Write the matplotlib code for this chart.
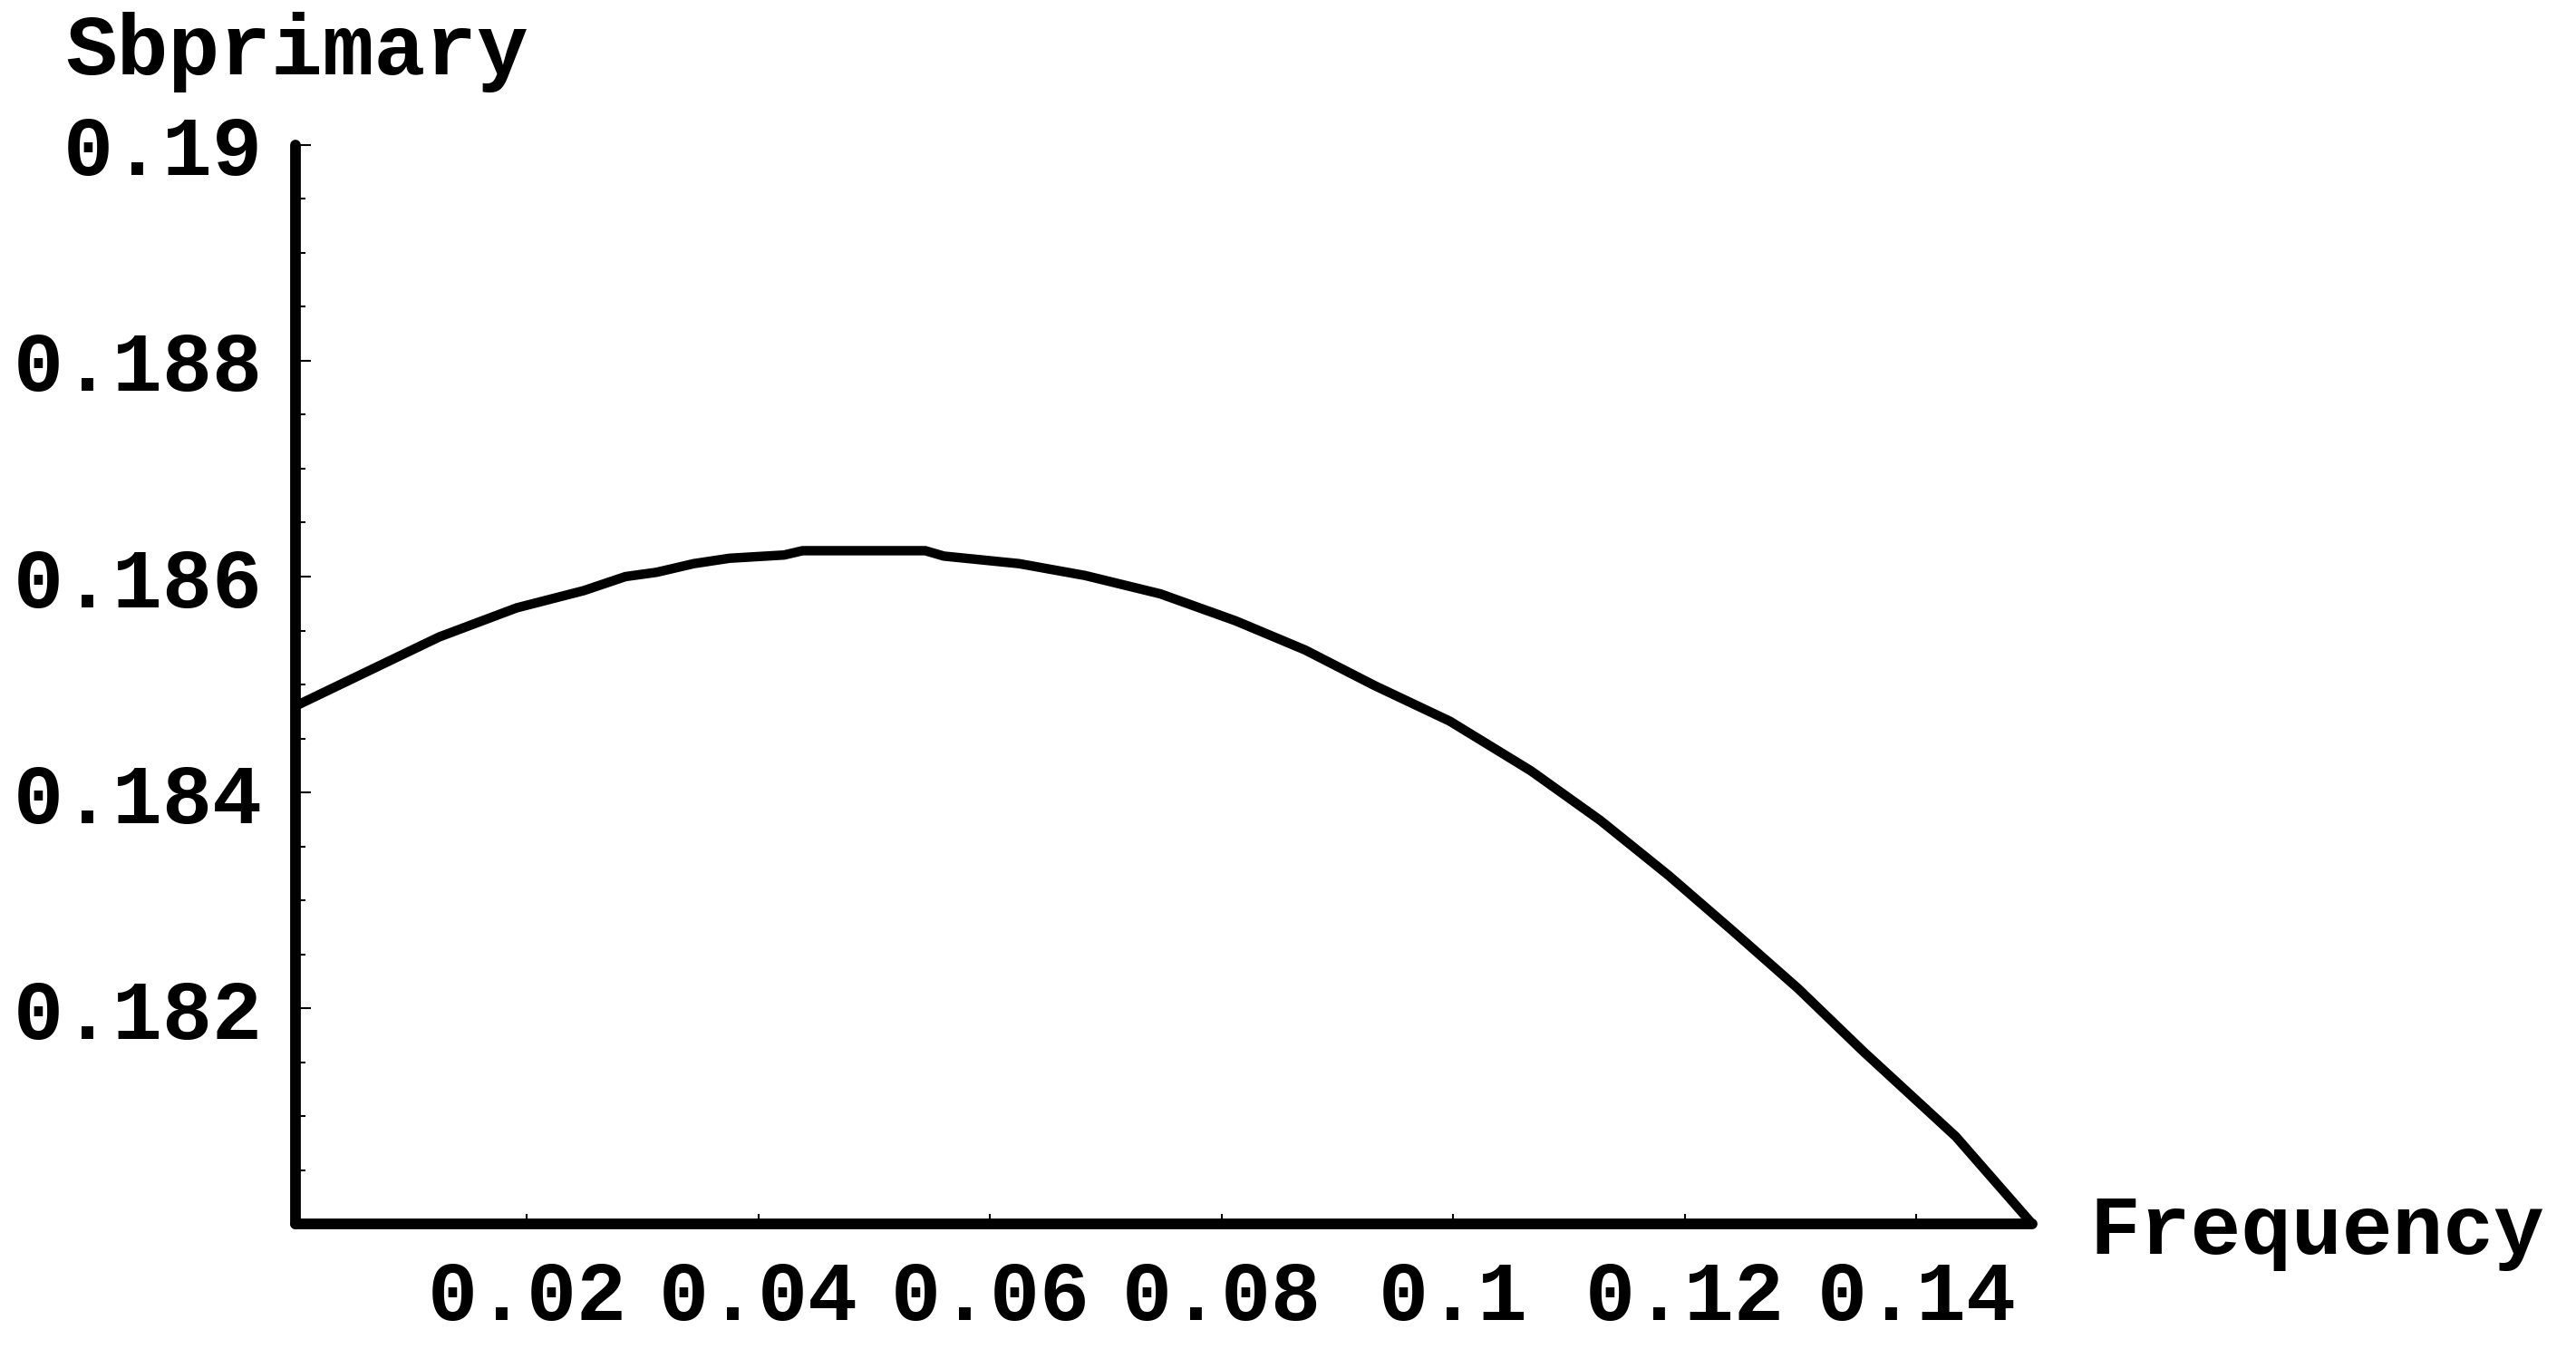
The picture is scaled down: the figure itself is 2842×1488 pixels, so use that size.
import matplotlib
matplotlib.use('Agg')
import matplotlib.pyplot as plt
from matplotlib.ticker import MultipleLocator

plt.rcParams['font.family'] = ['Liberation Mono', 'DejaVu Sans Mono']
plt.rcParams['font.weight'] = 'bold'

# curve
freq = [0, 0.0124, 0.0191, 0.0249, 0.0285, 0.0312, 0.0344, 0.0375, 0.0422,
        0.0438, 0.0544, 0.0560, 0.0625, 0.0682, 0.0747, 0.0812, 0.0872,
        0.0932, 0.0997, 0.1067, 0.1127, 0.1186, 0.1242, 0.1298, 0.1354,
        0.1434, 0.15]
sb = [0.18480, 0.18544, 0.18571, 0.18587, 0.18600, 0.18604, 0.18612,
      0.18617, 0.18620, 0.18624, 0.18624, 0.18619, 0.18612, 0.18601,
      0.18584, 0.18559, 0.18532, 0.18499, 0.18466, 0.18420, 0.18374,
      0.18323, 0.18271, 0.18218, 0.18160, 0.18081, 0.18000]

x_ticks = [0.02, 0.04, 0.06, 0.08, 0.1, 0.12, 0.14]
x_labels = ['0.02', '0.04', '0.06', '0.08', '0.1', '0.12', '0.14']
y_ticks = [0.182, 0.184, 0.186, 0.188, 0.19]
y_labels = ['0.182', '0.184', '0.186', '0.188', '0.19']

fig = plt.figure(figsize=(28.42, 14.88), dpi=100)
ax = fig.add_axes([0.1147, 0.0927, 0.6742, 0.7998])

ax.plot(freq, sb, color='black', linewidth=7.5, solid_joinstyle='round',
        solid_capstyle='round', clip_on=False)

ax.set_xlim(0, 0.15)
ax.set_ylim(0.18, 0.19)

for s in ['top', 'right']:
    ax.spines[s].set_visible(False)
for s in ['left', 'bottom']:
    ax.spines[s].set_linewidth(8.5)
    ax.spines[s].set_capstyle('round')

ax.set_xticks(x_ticks)
ax.set_xticklabels(x_labels)
ax.set_yticks(y_ticks)
ax.set_yticklabels(y_labels)
ax.yaxis.set_minor_locator(MultipleLocator(0.0005))

ax.tick_params(axis='both', which='major', direction='in', labelsize=66,
               width=1.5, color='black')
ax.tick_params(axis='x', which='major', length=8, pad=28)
ax.tick_params(axis='y', which='major', length=12, pad=26)
ax.tick_params(axis='y', which='minor', direction='in', length=8, width=1.5)

fig.text(0.0255, 0.945, 'Sbprimary', fontsize=68, fontweight='bold',
         ha='left', va='baseline')
fig.text(0.8112, 0.0706, 'Frequency', fontsize=67, fontweight='bold',
         ha='left', va='baseline')

fig.savefig('out.png', dpi=100, facecolor='white')
